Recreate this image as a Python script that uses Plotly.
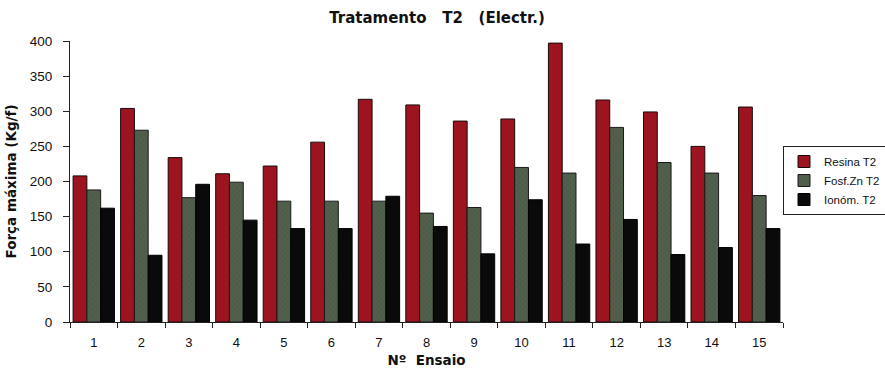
import plotly.graph_objects as go

ensaios = [str(i) for i in range(1, 16)]
resina = [208, 304, 234, 211, 222, 256, 317, 309, 286, 289, 397, 316, 299, 250, 306]
fosf_zn = [188, 273, 177, 199, 172, 172, 172, 155, 163, 220, 212, 277, 227, 212, 180]
ionom = [162, 95, 196, 145, 133, 133, 179, 136, 97, 174, 111, 146, 96, 106, 133]

font = "Liberation Sans, Arial, sans-serif"
bold = "DejaVu Sans, Liberation Sans, sans-serif"

fig = go.Figure()
fig.add_trace(go.Bar(x=ensaios, y=resina, name="Resina T2",
                     marker=dict(color="#9c1420", line=dict(color="#1a0a0a", width=1))))
fig.add_trace(go.Bar(x=ensaios, y=fosf_zn, name="Fosf.Zn T2",
                     marker=dict(color="#4e5c49", line=dict(color="#1a1a1a", width=1),
                                 pattern=dict(shape="x", fgcolor="#6f7d69", size=4, solidity=0.15))))
fig.add_trace(go.Bar(x=ensaios, y=ionom, name="Ionóm. T2",
                     marker=dict(color="#0a0a0a", line=dict(color="#000000", width=1))))

fig.update_layout(
    width=885, height=371,
    margin=dict(l=70, r=102, t=41, b=49),
    paper_bgcolor="white", plot_bgcolor="white",
    barmode="group", bargap=0.13, bargroupgap=0,
    font=dict(family=font, size=13, color="#111"),
    title=dict(text="<b>Tratamento   T2   (Electr.)</b>", x=437 / 885, xanchor="center",
               xref="container",
               y=1 - 18 / 371, yanchor="middle", font=dict(size=15, family=bold)),
    legend=dict(xref="container", yref="container",
                x=783 / 885, xanchor="left", y=1 - 146 / 371, yanchor="top",
                bordercolor="#222", borderwidth=1, font=dict(size=11.5, family=font),
                itemwidth=30, tracegroupgap=0, bgcolor="white"),
    showlegend=True,
)
fig.update_xaxes(
    showline=True, linecolor="#222", linewidth=1,
    ticks="outside", tickson="boundaries", ticklen=5, tickcolor="#222",
    showgrid=False, ticklabelstandoff=8, automargin=False,
    title=dict(text="<b>Nº  Ensaio</b>", font=dict(size=13.5, family=bold), standoff=6),
    tickfont=dict(size=13),
)
fig.update_yaxes(
    range=[0, 400], dtick=50, showline=True, linecolor="#222", linewidth=1,
    ticks="outside", ticklen=6, tickcolor="#222", showgrid=False, zeroline=False,
    ticklabelstandoff=8, automargin=False,
    title=dict(text="<b>Força máxima (Kg/f)</b>", font=dict(size=13.5, family=bold), standoff=10),
    tickfont=dict(size=13.5),
)

fig.write_html("out.html")
